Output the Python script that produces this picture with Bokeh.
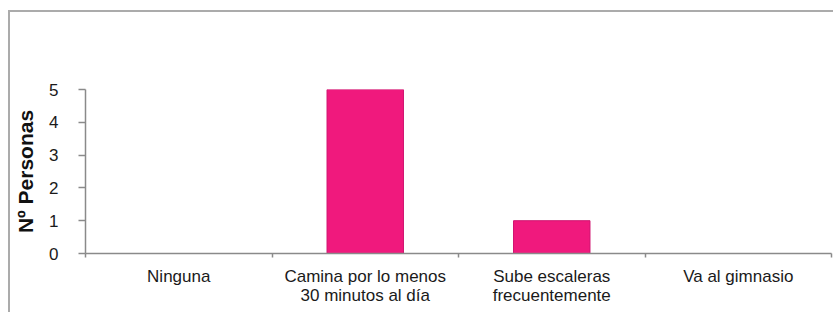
from bokeh.plotting import figure
from bokeh.models import (Range1d, FixedTicker, ColumnDataSource)
from bokeh.embed import file_html
from bokeh.resources import INLINE

categories = ["Ninguna", "Camina por lo menos\n30 minutos al día",
              "Sube escaleras\nfrecuentemente", "Va al gimnasio"]
personas = [0, 5, 1, 0]
y_ticks = [0, 1, 2, 3, 4, 5]
y_label = "Nº Personas"

FONT = "Liberation Sans"
AXIS_COLOR = "#8a8a8a"
BAR_COLOR = "#f0197d"

n = len(categories)
centers = [i + 0.5 for i in range(n)]
bounds = list(range(n + 1))
src = ColumnDataSource(dict(x=centers, val=personas))

p = figure(x_range=Range1d(0, n), y_range=Range1d(0, max(y_ticks)),
           width=823, height=300, output_backend="svg", toolbar_location=None,
           x_axis_location="below", y_axis_location="left",
           min_border_left=75, min_border_right=2, min_border_top=77,
           min_border_bottom=59)
p.frame_width = 746
p.frame_height = 164
p.outline_line_color = None
p.xgrid.visible = False
p.ygrid.visible = False
p.background_fill_color = "white"
p.styles = {"border-left": "2px solid #ababab", "border-top": "2px solid #ababab",
            "transform": "translate(8px, 10px)"}

p.vbar(x="x", top="val", width=0.41, bottom=0, source=src,
       fill_color=BAR_COLOR, line_color="#d01470", line_width=1)

# y axis
ya = p.yaxis[0]
ya.ticker = FixedTicker(ticks=y_ticks)
ya.axis_line_color = AXIS_COLOR
ya.axis_line_width = 1.5
ya.major_tick_line_color = AXIS_COLOR
ya.major_tick_line_width = 1.5
ya.major_tick_in = 0
ya.major_tick_out = 7
ya.minor_tick_line_color = None
ya.major_label_text_font = FONT
ya.major_label_text_font_size = "17px"
ya.major_label_text_color = "#1a1a1a"
ya.major_label_standoff = 20
ya.axis_label = y_label
ya.axis_label_text_font = FONT
ya.axis_label_text_font_size = "21px"
ya.axis_label_text_font_style = "bold"
ya.axis_label_text_color = "#111111"
ya.axis_label_standoff = 9

# x axis: labels at slot centres, boundary ticks as minor ticks
xa = p.xaxis[0]
xa.ticker = FixedTicker(ticks=centers, minor_ticks=bounds)
xa.major_label_overrides = {c: lab for c, lab in zip(centers, categories)}
xa.axis_line_color = AXIS_COLOR
xa.axis_line_width = 1.5
xa.major_tick_line_color = None
xa.major_tick_in = 0
xa.major_tick_out = 0
xa.minor_tick_line_color = AXIS_COLOR
xa.minor_tick_line_width = 1.5
xa.minor_tick_in = 0
xa.minor_tick_out = 4
xa.major_label_text_font = FONT
xa.major_label_text_font_size = "17px"
xa.major_label_text_color = "#1a1a1a"
xa.major_label_text_line_height = 1.0
xa.major_label_standoff = 9

open("out.html", "w").write(file_html(p, INLINE))
